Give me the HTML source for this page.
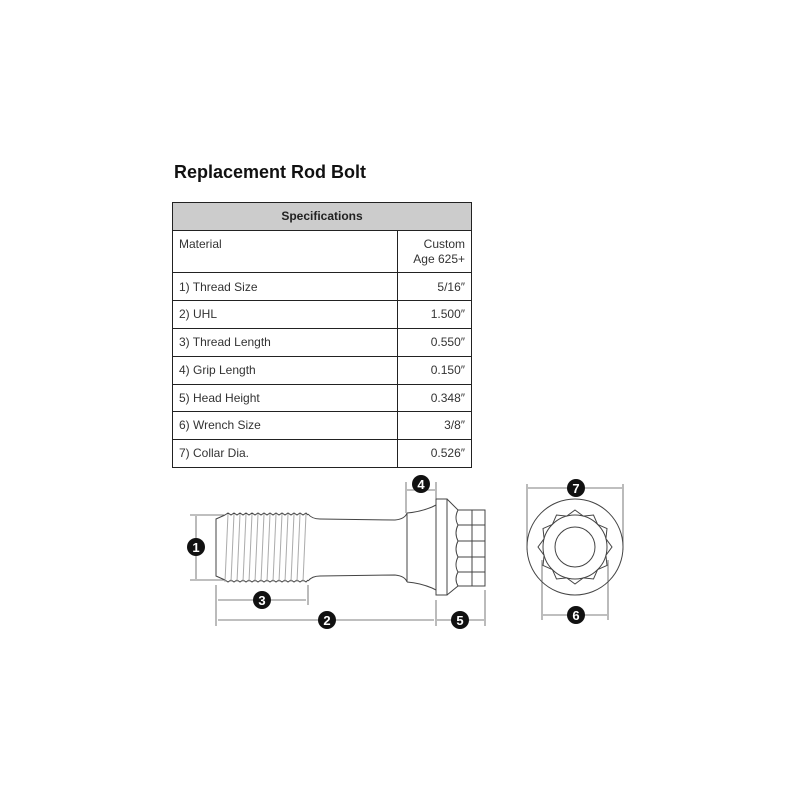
<!DOCTYPE html>
<html><head><style>
body{margin:0;background:#fff;width:800px;height:800px;overflow:hidden;font-family:"Liberation Sans",Arial,sans-serif}
</style></head><body>
<svg width="800" height="800" viewBox="0 0 800 800" xmlns="http://www.w3.org/2000/svg" font-family="Liberation Sans, Arial, sans-serif">
<text x="174" y="178" font-size="18" font-weight="bold" fill="#111">Replacement Rod Bolt</text>
<rect x="172.5" y="202.5" width="299" height="28" fill="#cccccc" stroke="#222"/>
<text x="322" y="220" font-size="12" font-weight="bold" text-anchor="middle" fill="#222">Specifications</text>
<g stroke="#222" fill="none">
<rect x="172.5" y="230.5" width="299" height="237"/>
<line x1="397.5" y1="230" x2="397.5" y2="467"/>
<line x1="172" y1="272.5" x2="471" y2="272.5"/>
<line x1="172" y1="300.5" x2="471" y2="300.5"/>
<line x1="172" y1="328.5" x2="471" y2="328.5"/>
<line x1="172" y1="356.5" x2="471" y2="356.5"/>
<line x1="172" y1="384.5" x2="471" y2="384.5"/>
<line x1="172" y1="411.5" x2="471" y2="411.5"/>
<line x1="172" y1="439.5" x2="471" y2="439.5"/>
</g>
<g font-size="12" fill="#333">
<text x="179" y="248">Material</text>
<text x="465" y="248" text-anchor="end">Custom</text>
<text x="465" y="263" text-anchor="end">Age 625+</text>
<text x="179" y="291">1) Thread Size</text><text x="465" y="291" text-anchor="end">5/16″</text>
<text x="179" y="318">2) UHL</text><text x="465" y="318" text-anchor="end">1.500″</text>
<text x="179" y="346">3) Thread Length</text><text x="465" y="346" text-anchor="end">0.550″</text>
<text x="179" y="374">4) Grip Length</text><text x="465" y="374" text-anchor="end">0.150″</text>
<text x="179" y="402">5) Head Height</text><text x="465" y="402" text-anchor="end">0.348″</text>
<text x="179" y="429">6) Wrench Size</text><text x="465" y="429" text-anchor="end">3/8″</text>
<text x="179" y="457">7) Collar Dia.</text><text x="465" y="457" text-anchor="end">0.526″</text>
</g>
<g stroke="#444" fill="none" stroke-width="1">
<path d="M225,515 L216,519 L216,576 L225,580"/>
<path d="M225,515 l3,-2 l3,2 l3,-2 l3,2 l3,-2 l3,2 l3,-2 l3,2 l3,-2 l3,2 l3,-2 l3,2 l3,-2 l3,2 l3,-2 l3,2 l3,-2 l3,2 l3,-2 l3,2 l3,-2 l3,2 l3,-2 l3,2 l3,-2 l3,2 l3,-2 l2,2"/>
<path d="M225,580 l3,2 l3,-2 l3,2 l3,-2 l3,2 l3,-2 l3,2 l3,-2 l3,2 l3,-2 l3,2 l3,-2 l3,2 l3,-2 l3,2 l3,-2 l3,2 l3,-2 l3,2 l3,-2 l3,2 l3,-2 l3,2 l3,-2 l3,2 l3,-2 l3,2 l2,-2"/>
<g stroke="#aaa">
<path d="M228,514 l-3,68 M234,514 l-3,68 M240,514 l-3,68 M246,514 l-3,68 M252,514 l-3,68 M258,514 l-3,68 M264,514 l-3,68 M270,514 l-3,68 M276,514 l-3,68 M282,514 l-3,68 M288,514 l-3,68 M294,514 l-3,68 M300,514 l-3,68 M306,514 l-3,68"/>
</g>
<path d="M308,514 Q312,519 320,519 L395,520 Q405,519 407,513 M308,581 Q312,576 320,576 L395,575 Q405,576 407,582"/>
<path d="M407,513 Q420,512 432,507 L436,505 M407,582 Q420,583 432,588 L436,590"/>
<line x1="407" y1="513" x2="407" y2="582"/>
<rect x="436" y="499" width="11" height="96"/>
<path d="M447,499 L458,510 L485,510 L485,586 L458,586 L447,595"/>
<path d="M458,510 Q454,518 458,525 Q454,533 458,541 Q454,549 458,557 Q454,565 458,572 Q454,579 458,586"/>
<path d="M472,510 L472,586 M458,525 L485,525 M458,541 L485,541 M458,557 L485,557 M458,572 L485,572"/>
</g>
<g stroke="#555" stroke-width="0.8" fill="none">
<line x1="190" y1="515" x2="225" y2="515"/><line x1="190" y1="580" x2="225" y2="580"/>
<line x1="196" y1="516" x2="196" y2="579"/>
<line x1="216" y1="585" x2="216" y2="626"/><line x1="308" y1="585" x2="308" y2="605"/>
<line x1="218" y1="600" x2="306" y2="600"/>
<line x1="218" y1="620" x2="434" y2="620"/>
<line x1="436" y1="600" x2="436" y2="626"/><line x1="485" y1="590" x2="485" y2="626"/>
<line x1="437" y1="620" x2="484" y2="620"/>
<line x1="406" y1="482" x2="406" y2="513"/><line x1="436" y1="482" x2="436" y2="499"/>
<line x1="407" y1="490" x2="435" y2="490"/>
<line x1="527" y1="484" x2="527" y2="550"/><line x1="623" y1="484" x2="623" y2="550"/>
<line x1="528" y1="488" x2="622" y2="488"/>
<line x1="542" y1="560" x2="542" y2="620"/><line x1="608" y1="560" x2="608" y2="620"/>
<line x1="543" y1="615" x2="607" y2="615"/>
</g>
<g stroke="#444" fill="none">
<circle cx="575" cy="547" r="48"/>
<circle cx="575" cy="547" r="20"/>
<circle cx="575" cy="547" r="32"/>
<polygon points="575,510 583.3,516.1 593.5,515 597.6,524.4 607,528.5 605.9,538.7 612,547 605.9,555.3 607,565.5 597.6,569.6 593.5,579 583.3,577.9 575,584 566.7,577.9 556.5,579 552.4,569.6 543,565.5 544.1,555.3 538,547 544.1,538.7 543,528.5 552.4,524.4 556.5,515 566.7,516.1"/>
</g>
<g fill="#111">
<circle cx="196" cy="547" r="9"/><circle cx="262" cy="600" r="9"/><circle cx="327" cy="620" r="9"/>
<circle cx="421" cy="484" r="9"/><circle cx="460" cy="620" r="9"/><circle cx="576" cy="488" r="9"/><circle cx="576" cy="615" r="9"/>
</g>
<g fill="#fff" font-size="13" font-weight="bold" text-anchor="middle">
<text x="196" y="552">1</text><text x="262" y="605">3</text><text x="327" y="625">2</text>
<text x="421" y="489">4</text><text x="460" y="625">5</text><text x="576" y="493">7</text><text x="576" y="620">6</text>
</g>
</svg>
</body></html>
